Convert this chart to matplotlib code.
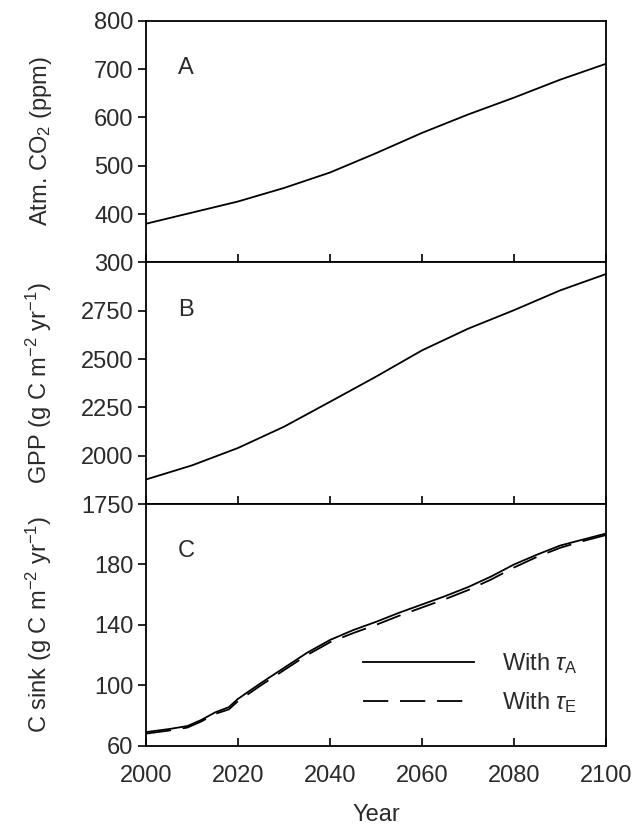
import matplotlib
matplotlib.use("Agg")
import matplotlib.pyplot as plt

plt.rcParams['font.family'] = ['Liberation Sans', 'DejaVu Sans']
plt.rcParams['mathtext.fontset'] = 'custom'
plt.rcParams['mathtext.rm'] = 'Liberation Sans'
plt.rcParams['mathtext.it'] = 'Liberation Sans:italic'
plt.rcParams['mathtext.default'] = 'regular'

# ---- data ----
years_a = [2000, 2010, 2020, 2030, 2040, 2050, 2060, 2070, 2080, 2090, 2100]
co2 = [380, 403, 426, 454, 486, 526, 568, 606, 641, 678, 711]

years_b = [2000, 2010, 2020, 2030, 2040, 2050, 2060, 2070, 2080, 2090, 2100]
gpp = [1877, 1950, 2040, 2150, 2279, 2409, 2545, 2657, 2753, 2855, 2940]

years_c = [2000, 2005, 2009, 2012, 2015, 2018, 2020, 2025, 2030, 2035, 2040,
           2045, 2050, 2055, 2060, 2065, 2070, 2075, 2080, 2085, 2090, 2095, 2100]
sink_a = [69, 71, 73, 77, 82, 85.5, 91, 101.5, 111.5, 121.5, 130,
          136.5, 142, 148, 153.5, 159, 165, 172, 180, 186.5, 192.5, 196.5, 200.5]
sink_e = [68, 70, 72, 76, 81, 84, 89.5, 100, 110, 120, 128.5,
          134.5, 140, 146, 151.5, 157, 163, 170, 178, 185, 191, 195.5, 199.5]

legend_labels = [r'With $\mathit{\tau}_{A}$', r'With $\mathit{\tau}_{E}$']

fig = plt.figure(figsize=(6.32, 8.30), dpi=100)
L, R = 0.231, 0.959
bottom, top = 0.1016, 0.975
h = (top - bottom) / 3
txt = '#2a2a2a'
fs = 17

axA = fig.add_axes([L, bottom + 2 * h, R - L, h])
axB = fig.add_axes([L, bottom + h, R - L, h], sharex=axA)
axC = fig.add_axes([L, bottom, R - L, h], sharex=axA)

lw = 1.3
axA.plot(years_a, co2, color='black', lw=lw)
axB.plot(years_b, gpp, color='black', lw=lw)
la, = axC.plot(years_c, sink_a, color='black', lw=lw)
le, = axC.plot(years_c, sink_e, color='black', lw=lw, dashes=(14, 6.5))

axA.set_ylim(300, 800)
axA.set_yticks([300, 400, 500, 600, 700, 800])
axB.set_ylim(1750, 3000)
axB.set_yticks([1750, 2000, 2250, 2500, 2750])
axC.set_ylim(60, 220)
axC.set_yticks([60, 100, 140, 180])
axA.set_xlim(2000, 2100)
axC.set_xticks([2000, 2020, 2040, 2060, 2080, 2100])

axA.set_ylabel(r'Atm. CO$_2$ (ppm)', fontsize=fs, color=txt)
axB.set_ylabel(r'GPP (g C m$^{-2}$ yr$^{-1}$)', fontsize=fs, color=txt)
axC.set_ylabel(r'C sink (g C m$^{-2}$ yr$^{-1}$)', fontsize=fs, color=txt)
for ax in (axA, axB, axC):
    ax.yaxis.set_label_coords(-0.2, 0.5)
axC.set_xlabel('Year', fontsize=fs, color=txt, labelpad=12)

for ax, letter in zip([axA, axB, axC], ['A', 'B', 'C']):
    ax.tick_params(axis='y', direction='out', length=6, labelsize=fs, labelcolor=txt,
                   width=1.2, pad=3)
    ax.tick_params(axis='x', direction='in', length=6, labelsize=fs, labelcolor=txt,
                   width=1.2, pad=14)
    for s in ax.spines.values():
        s.set_linewidth(1.3)
    ax.text(0.07, 0.78, letter, transform=ax.transAxes, fontsize=fs, color=txt)

plt.setp(axA.get_xticklabels(), visible=False)
plt.setp(axB.get_xticklabels(), visible=False)

axC.legend([la, le], legend_labels, loc='upper left', bbox_to_anchor=(0.472, 0.39),
           borderaxespad=0, borderpad=0,
           frameon=False, fontsize=fs, handlelength=4.7, handletextpad=1.2,
           labelspacing=0.6, labelcolor=txt)

fig.savefig('out.png', dpi=100)
